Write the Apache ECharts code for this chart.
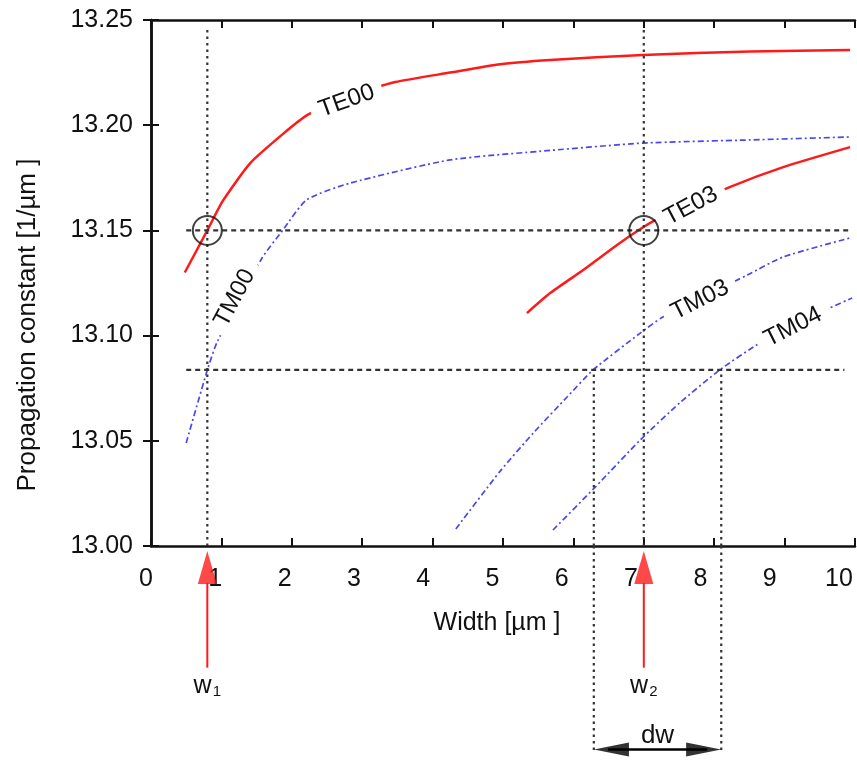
<!DOCTYPE html>
<html>
<head>
<meta charset="utf-8">
<script src="https://cdn.jsdelivr.net/npm/echarts@6/dist/echarts.min.js"></script>
<style>
  html, body { margin: 0; padding: 0; background: #fff; }
  #chart { width: 857px; height: 760px; }
</style>
</head>
<body>
<div id="chart"></div>
<script>
// mode curves: [width um, propagation constant 1/um]
const TE00 = [[0.48, 13.130], [0.80, 13.150], [1.02, 13.164], [1.41, 13.182], [1.88, 13.196], [2.23, 13.205], [2.83, 13.214], [3.47, 13.2205], [4.25, 13.225], [4.96, 13.229], [5.67, 13.231], [6.99, 13.2334], [8.51, 13.235], [9.93, 13.2357]];
const TM00 = [[0.50, 13.049], [0.80, 13.0836], [0.94, 13.097], [1.58, 13.137], [1.87, 13.150], [2.21, 13.1645], [2.83, 13.1725], [4.25, 13.1835], [5.67, 13.188], [6.99, 13.1915], [8.51, 13.193], [9.93, 13.1944]];
const TE03 = [[5.34, 13.1107], [5.67, 13.1202], [6.14, 13.1312], [6.62, 13.1431], [6.93, 13.1502], [7.17, 13.155], [8.22, 13.1706], [8.98, 13.1801], [9.93, 13.1896]];
const TM03 = [[4.33, 13.0081], [4.96, 13.0356], [5.43, 13.0537], [5.91, 13.0708], [6.28, 13.0837], [6.95, 13.1012], [7.27, 13.1088], [8.47, 13.1288], [8.98, 13.1374], [9.93, 13.1464]];
const TM04 = [[5.71, 13.0076], [6.31, 13.028], [6.95, 13.0504], [7.51, 13.068], [8.08, 13.0837], [8.65, 13.0965], [9.64, 13.1131], [9.96, 13.1179]];

// inline curve labels
const curveNames = ["TE00", "TM00", "TE03", "TM03", "TM04"];
const curveLabelX = [2.78, 1.19, 7.67, 7.80, 9.12];
const curveLabelY = [13.2115, 13.1179, 13.1616, 13.1169, 13.1041];
const curveLabelAngle = [20, 62, 28, 27, 27];

// operating points and guide lines
const w1 = 0.8;
const w2 = 7.0;
const betaTarget = 13.15;
const betaCut = 13.0837;
const dwLeft = 6.29;
const dwRight = 8.10;
const guideTop = 13.246;

// below-axis annotation levels (same beta scale, continued under the frame)
const arrowFoot = 12.942;
const arrowHeadBase = 12.9824;
const arrowHeadMid = 12.9898;
const wLabelLevel = 12.933;
const dwLevel = 12.903;
const dwTextLevel = 12.9097;
const dwHeadLeft = 6.54;
const dwHeadRight = 7.85;

const xTicks = [0, 1, 2, 3, 4, 5, 6, 7, 8, 9, 10];

const font = "'Liberation Sans', Arial, sans-serif";
const red = "#ff1a1a";
const blue = "#4848ee";
const ink = "#111";

const redStyle = { color: red, width: 2.5 };
const blueStyle = { color: blue, width: 1.7, type: [6, 3, 2, 3] };
const dotStyle = { color: "#333", width: 2.2, type: [2.5, 4] };
const dashStyle = { color: "#333", width: 2.2, type: [5, 4] };

function line(data, style, z, xi, yi, smooth) {
  return {
    type: "line",
    data: data,
    xAxisIndex: xi || 0,
    yAxisIndex: yi || 0,
    showSymbol: false,
    smooth: smooth || false,
    lineStyle: style,
    z: z,
    silent: true,
  };
}

const textBase = { fontFamily: font, color: ink, textBorderWidth: 0, opacity: 1 };

const series = [
  line(TE00, redStyle, 2, 0, 0, 0.2),
  line(TM00, blueStyle, 2, 0, 0, 0.2),
  line(TE03, redStyle, 2, 0, 0, 0.2),
  line(TM03, blueStyle, 2, 0, 0, 0.2),
  line(TM04, blueStyle, 2, 0, 0, 0.2),
  {
    type: "scatter",
    symbolSize: 1,
    itemStyle: { color: "rgba(0,0,0,0)" },
    z: 3,
    silent: true,
    data: curveNames.map((n, i) => ({
      value: [curveLabelX[i], curveLabelY[i]],
      label: Object.assign({}, textBase, {
        show: true,
        position: "inside",
        formatter: n,
        rotate: curveLabelAngle[i],
        fontSize: 24,
        backgroundColor: "#fff",
        padding: [1, 9],
      }),
    })),
  },
  line([[0.5, betaTarget], [9.92, betaTarget]], dashStyle, 4),
  line([[0.5, betaCut], [9.85, betaCut]], dashStyle, 4),
  line([[w1, 13.0], [w1, guideTop]], dotStyle, 4),
  line([[w2, 13.0], [w2, guideTop]], dotStyle, 4),
  line([[dwLeft, 13.0], [dwLeft, betaCut]], dotStyle, 4),
  line([[dwRight, 13.0], [dwRight, betaCut]], dotStyle, 4),
  {
    type: "scatter",
    symbolSize: 29,
    z: 5,
    silent: true,
    itemStyle: { color: "rgba(0,0,0,0)", borderColor: "#111", borderWidth: 2 },
    data: [[w1, betaTarget], [w2, betaTarget]],
  },
  // annotations under the axis
  line([[dwLeft, 13.0], [dwLeft, dwLevel - 0.001]], dotStyle, 4, 3, 2),
  line([[dwRight, 13.0], [dwRight, dwLevel - 0.001]], dotStyle, 4, 3, 2),
  line([[w1, arrowFoot], [w1, arrowHeadBase]], { color: red, width: 2 }, 4, 3, 2),
  line([[w2, arrowFoot], [w2, arrowHeadBase]], { color: red, width: 2 }, 4, 3, 2),
  line([[dwLeft + 0.2, dwLevel], [dwRight - 0.2, dwLevel]], { color: "#000", width: 2.5 }, 4, 3, 2),
  {
    type: "scatter",
    xAxisIndex: 3,
    yAxisIndex: 2,
    symbol: "triangle",
    symbolSize: [19, 33],
    itemStyle: { color: red },
    z: 5,
    silent: true,
    data: [[w1, arrowHeadMid], [w2, arrowHeadMid]],
  },
  {
    type: "scatter",
    xAxisIndex: 3,
    yAxisIndex: 2,
    symbol: "triangle",
    symbolSize: [14, 35],
    itemStyle: { color: "#000" },
    z: 5,
    silent: true,
    data: [
      { value: [dwHeadLeft, dwLevel], symbolRotate: 90 },
      { value: [dwHeadRight, dwLevel], symbolRotate: -90 },
    ],
  },
  {
    type: "scatter",
    xAxisIndex: 3,
    yAxisIndex: 2,
    symbolSize: 1,
    itemStyle: { color: "rgba(0,0,0,0)" },
    z: 5,
    silent: true,
    label: Object.assign({}, textBase, {
      show: true,
      position: "inside",
      formatter: (p) => p.data[2],
      rich: {
        w: Object.assign({}, textBase, { fontSize: 25 }),
        s: Object.assign({}, textBase, { fontSize: 15, verticalAlign: "bottom", padding: [0, 0, 0, 1] }),
        d: Object.assign({}, textBase, { fontSize: 26 }),
      },
    }),
    data: [
      [w1, wLabelLevel, "{w|w}{s|1}"],
      [w2, wLabelLevel, "{w|w}{s|2}"],
      [(dwLeft + dwRight) / 2, dwTextLevel, "{d|dw}"],
    ],
  },
];

const frameLine = { show: true, lineStyle: { color: "#111", width: 2.5 } };
const innerTick = { show: true, inside: true, length: 8, lineStyle: { color: "#111", width: 2 } };

const option = {
  animation: false,
  backgroundColor: "#fff",
  grid: [
    { left: 151, right: 2, top: 20, bottom: 214 },
    { left: 151, right: 2, top: 546, bottom: 0 },
  ],
  xAxis: [
    {
      gridIndex: 0, type: "value", position: "bottom", min: 0, max: 10, interval: 1,
      axisLine: frameLine, axisTick: innerTick, axisLabel: { show: false }, splitLine: { show: false },
    },
    {
      gridIndex: 0, type: "value", position: "top", min: 0, max: 10, interval: 1,
      axisLine: frameLine, axisTick: innerTick, axisLabel: { show: false }, splitLine: { show: false },
    },
    {
      // tick labels in the source sit slightly left of their marks
      gridIndex: 0, type: "value", position: "bottom", min: 0, max: 10.16,
      axisLine: { show: false }, axisTick: { show: false }, splitLine: { show: false },
      axisLabel: {
        customValues: xTicks, margin: 21, fontSize: 25, fontFamily: font, color: ink,
        padding: [0, 10, 0, 0], showMinLabel: true, showMaxLabel: true,
      },
      name: "Width [µm ]",
      nameLocation: "middle",
      nameGap: 65,
      nameTextStyle: { fontSize: 25, fontFamily: font, color: ink, padding: [0, 12, 0, 0] },
    },
    { gridIndex: 1, type: "value", min: 0, max: 10, show: false },
  ],
  yAxis: [
    {
      gridIndex: 0, type: "value", position: "left", min: 13.0, max: 13.25, interval: 0.05,
      axisLine: frameLine, axisTick: innerTick, splitLine: { show: false },
      axisLabel: { margin: 18, fontSize: 25, fontFamily: font, color: ink, formatter: (v) => v.toFixed(2) },
      name: "Propagation constant [1/µm ]",
      nameLocation: "middle",
      nameGap: 110,
      nameTextStyle: { fontSize: 26, fontFamily: font, color: ink, padding: [0, 84, 0, 0] },
    },
    {
      gridIndex: 0, type: "value", position: "right", min: 13.0, max: 13.25, interval: 0.05,
      axisLine: frameLine, axisTick: innerTick, axisLabel: { show: false }, splitLine: { show: false },
    },
    { gridIndex: 1, type: "value", min: 12.898, max: 13.0, show: false },
  ],
  series: series,
};

const chart = echarts.init(document.getElementById("chart"));
chart.setOption(option);
</script>
</body>
</html>
